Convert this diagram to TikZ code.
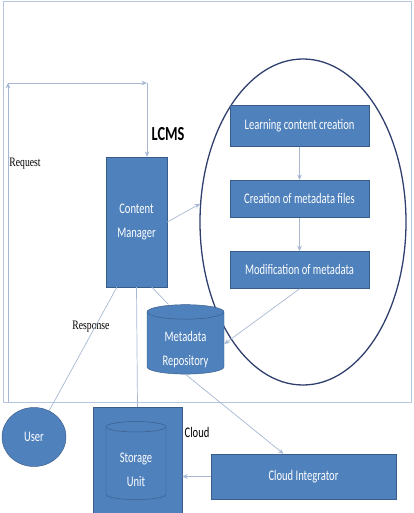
\documentclass[tikz,border=0pt]{standalone}
\usepackage{fontspec}
\usepackage{tikz}
\usetikzlibrary{shapes.geometric, arrows.meta, positioning, calc}
\newfontfamily\calfont{Carlito}[FakeStretch=0.72]
\newfontfamily\serfont{Liberation Serif}[FakeStretch=0.75]
\newcommand{\boxfont}{\calfont\fontsize{12.5}{20}\selectfont}
\definecolor{boxblue}{HTML}{4F81BD}
\definecolor{boxedge}{HTML}{385D8A}
\definecolor{linkc}{HTML}{A7B8D4}
\definecolor{framec}{HTML}{B4C6E0}
\definecolor{ringc}{HTML}{2E3F6E}
\tikzset{
  % boxes
  block/.style={rectangle, minimum width=#1, text centered, align=center, draw=boxedge, fill=boxblue, text=white, font=\boxfont, inner sep=1pt},
  block/.default={4.17cm},
  drum/.style={cylinder, shape border rotate=90, aspect=0.3, draw=boxedge, fill=boxblue, text=white, font=\boxfont, align=center, inner sep=1pt},
  % connectors
  link/.style={linkc, line width=0.6pt},
  arrow/.style={link, -{Stealth[length=1.6mm, width=1.4mm]}},
}
\begin{document}
\begin{tikzpicture}[x=0.03cm, y=-0.03cm]
    \useasboundingbox (0,0) rectangle (413,513);

    % LCMS frame
    \draw[framec, line width=0.7pt] (3,1) rectangle (411,402);

    % Process ring
    \node[ellipse, draw=ringc, line width=1.1pt, minimum width=6.18cm, minimum height=9.78cm] (ring) at (303,222) {};
    \node[block, minimum height=1.22cm] (learn) at (299.5,126) {Learning content creation};
    \node[block, minimum height=1.12cm, below=1cm of learn] (create) {Creation of metadata files};
    \node[block, minimum height=1.12cm, below=1cm of create] (modify) {Modification of metadata};

    % Content manager
    \node[block=1.83cm, minimum height=3.9cm] (cm) at (136.5,222) {Content\\Manager};
    \node[font=\calfont\fontsize{17}{17}\selectfont\bfseries] (lcms) at (168,134) {LCMS};

    % Metadata repository
    \node[drum, minimum width=2.31cm, minimum height=2.04cm] (mr) at (185.5,344) {\\[-2pt]Metadata\\Repository};

    % User
    \node[ellipse, draw=boxedge, fill=boxblue, text=white, font=\boxfont, minimum width=1.92cm, minimum height=1.77cm] (user) at (34,437) {User};

    % Cloud
    \node[block=2.67cm, minimum height=3.18cm] (store) at (137.5,460) {};
    \node[drum, minimum width=1.8cm, minimum height=2.34cm] (unit) at (136,464) {\\[-2pt]Storage\\Unit};
    \node[font=\boxfont, text=black] (cloud) at (197,432) {Cloud};
    \node[block=5.55cm, minimum height=1.35cm] (ci) at (303.5,476.5) {Cloud Integrator};

    % Labels
    \node[font=\serfont\fontsize{11}{12}\selectfont] (req) at (25,164) {Request};
    \node[font=\serfont\fontsize{11}{12}\selectfont] (resp) at (91,327) {Response};

    % Request path
    \coordinate (r0) at (8,402);
    \coordinate (r1) at (8,83);
    \coordinate (r2) at (147,83);
    \draw[arrow] (r0) -- (r1);
    \draw[arrow] (r1) -- (r2);
    \draw[arrow] (r2) -- (r2 |- cm.north);

    % Links
    \draw[arrow] (cm.east) -- (ring.170);
    \draw[arrow] (learn) -- (create);
    \draw[arrow] (create) -- (modify);
    \draw[arrow] (modify.south) -- (mr.east);
    \draw[link] ($(cm.south west)!0.75!(cm.south east)$) -- ($(mr.north)+(-17,0)$);
    \draw[link] (cm.south) -- (store.north);
    \draw[link] ($(cm.south west)!0.18!(cm.south east)$) -- (user.60);
    \draw[arrow] (mr.south) -- ($(ci.north)+(-20,0)$);
    \draw[arrow] (ci.west) -- (ci.west -| store.east);
\end{tikzpicture}
\end{document}
